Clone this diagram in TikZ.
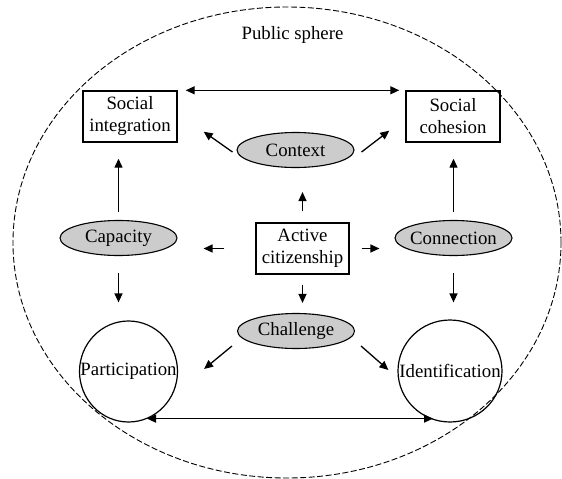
\documentclass[tikz,border=0pt]{standalone}
\usepackage{fontspec}
\setmainfont{Liberation Serif}
\usetikzlibrary{arrows.meta,calc,shapes.geometric}
\begin{document}
\begin{tikzpicture}[x=1pt,y=-1pt,
  txt/.style={font=\fontsize{18.8}{22}\selectfont, align=center},
  box/.style={txt, draw, line width=1.4pt, minimum width=94pt, minimum height=51pt, inner sep=1pt},
  oval/.style={draw, ellipse, fill=black!20, line width=1.1pt, minimum width=117pt, minimum height=35pt, inner sep=0pt, label={[txt]center:#1}},
  circ/.style={draw, ellipse, line width=1.2pt, inner sep=0pt, label={[txt]center:#1}},
  arr/.style={-{Triangle[length=9pt,width=8pt]}, line width=1.3pt},
  darr/.style={{Triangle[length=9pt,width=8pt]}-{Triangle[length=9pt,width=8pt]}, line width=1.3pt}]
\useasboundingbox (0,0) rectangle (562,479);
\draw[dash pattern=on 6pt off 2.5pt, line width=0.9pt] (287,242.5) ellipse [x radius=274pt, y radius=235.5pt];
\node[txt] (ps) at (292.5,35) {Public sphere};
\node[box] (si) at (130,116.5) {Social\\integration};
\node[box] (sc) at (453,116.5) {Social\\cohesion};
\node[box, minimum width=93pt] (ac) at (302.5,248.5) {Active\\citizenship};
\node[oval=Context] (ctx) at (295.5,150) {};
\node[oval=Capacity] (cap) at (118.5,238) {};
\node[oval=Connection] (con) at (453.5,238) {};
\node[oval=Challenge] (cha) at (296,331) {};
\node[circ=Participation, minimum width=98pt, minimum height=101pt] (par) at (128.5,371.5) {};
\node[circ=Identification, minimum width=104pt, minimum height=102pt] (ide) at (450,371) {};
% connectors
\draw[darr] ($(si.north east)+(8,0)$) -- ($(sc.north west)+(-6,0)$);
\draw[arr] ($(ctx.west)+(-4,2)$) -- ($(si.south east)+(26,-11)$);
\draw[arr] ($(ctx.east)+(7,2)$) -- ($(sc.south west)+(-16,-12)$);
\draw[arr] ($(ac.north)+(0,-11)$) -- ($(ac.north |- ctx.south)+(0,24)$);
\draw[arr] ($(cap.north)+(0,-8)$) -- ($(cap.north |- si.south)+(0,16)$);
\draw[arr] ($(con.north)+(0,-8)$) -- ($(con.north |- sc.south)+(0,16)$);
\draw[arr] ($(ac.west)+(-31,0)$) -- ($(cap.east |- ac.west)+(26,0)$);
\draw[arr] ($(ac.east)+(12,0)$) -- ($(con.west |- ac.east)+(-15,0)$);
\draw[arr] ($(cap.south)+(0,17)$) -- ($(cap.south |- par.north)+(0,-18)$);
\draw[arr] ($(con.south)+(0,17)$) -- ($(con.south |- ide.north)+(0,-17)$);
\draw[arr] ($(ac.south)+(0,10)$) -- ($(ac.south |- cha.north)+(0,-10)$);
\draw[arr] ($(cha.west)+(-5,15)$) -- ($(par.east)+(26,-2.5)$);
\draw[arr] ($(cha.east)+(6,15)$) -- ($(ide.west)+(-9,-1)$);
\draw[darr] ($(par.south)+(18.5,-4)$) -- ($(ide.south)+(-17,-4)$);
\end{tikzpicture}
\end{document}
